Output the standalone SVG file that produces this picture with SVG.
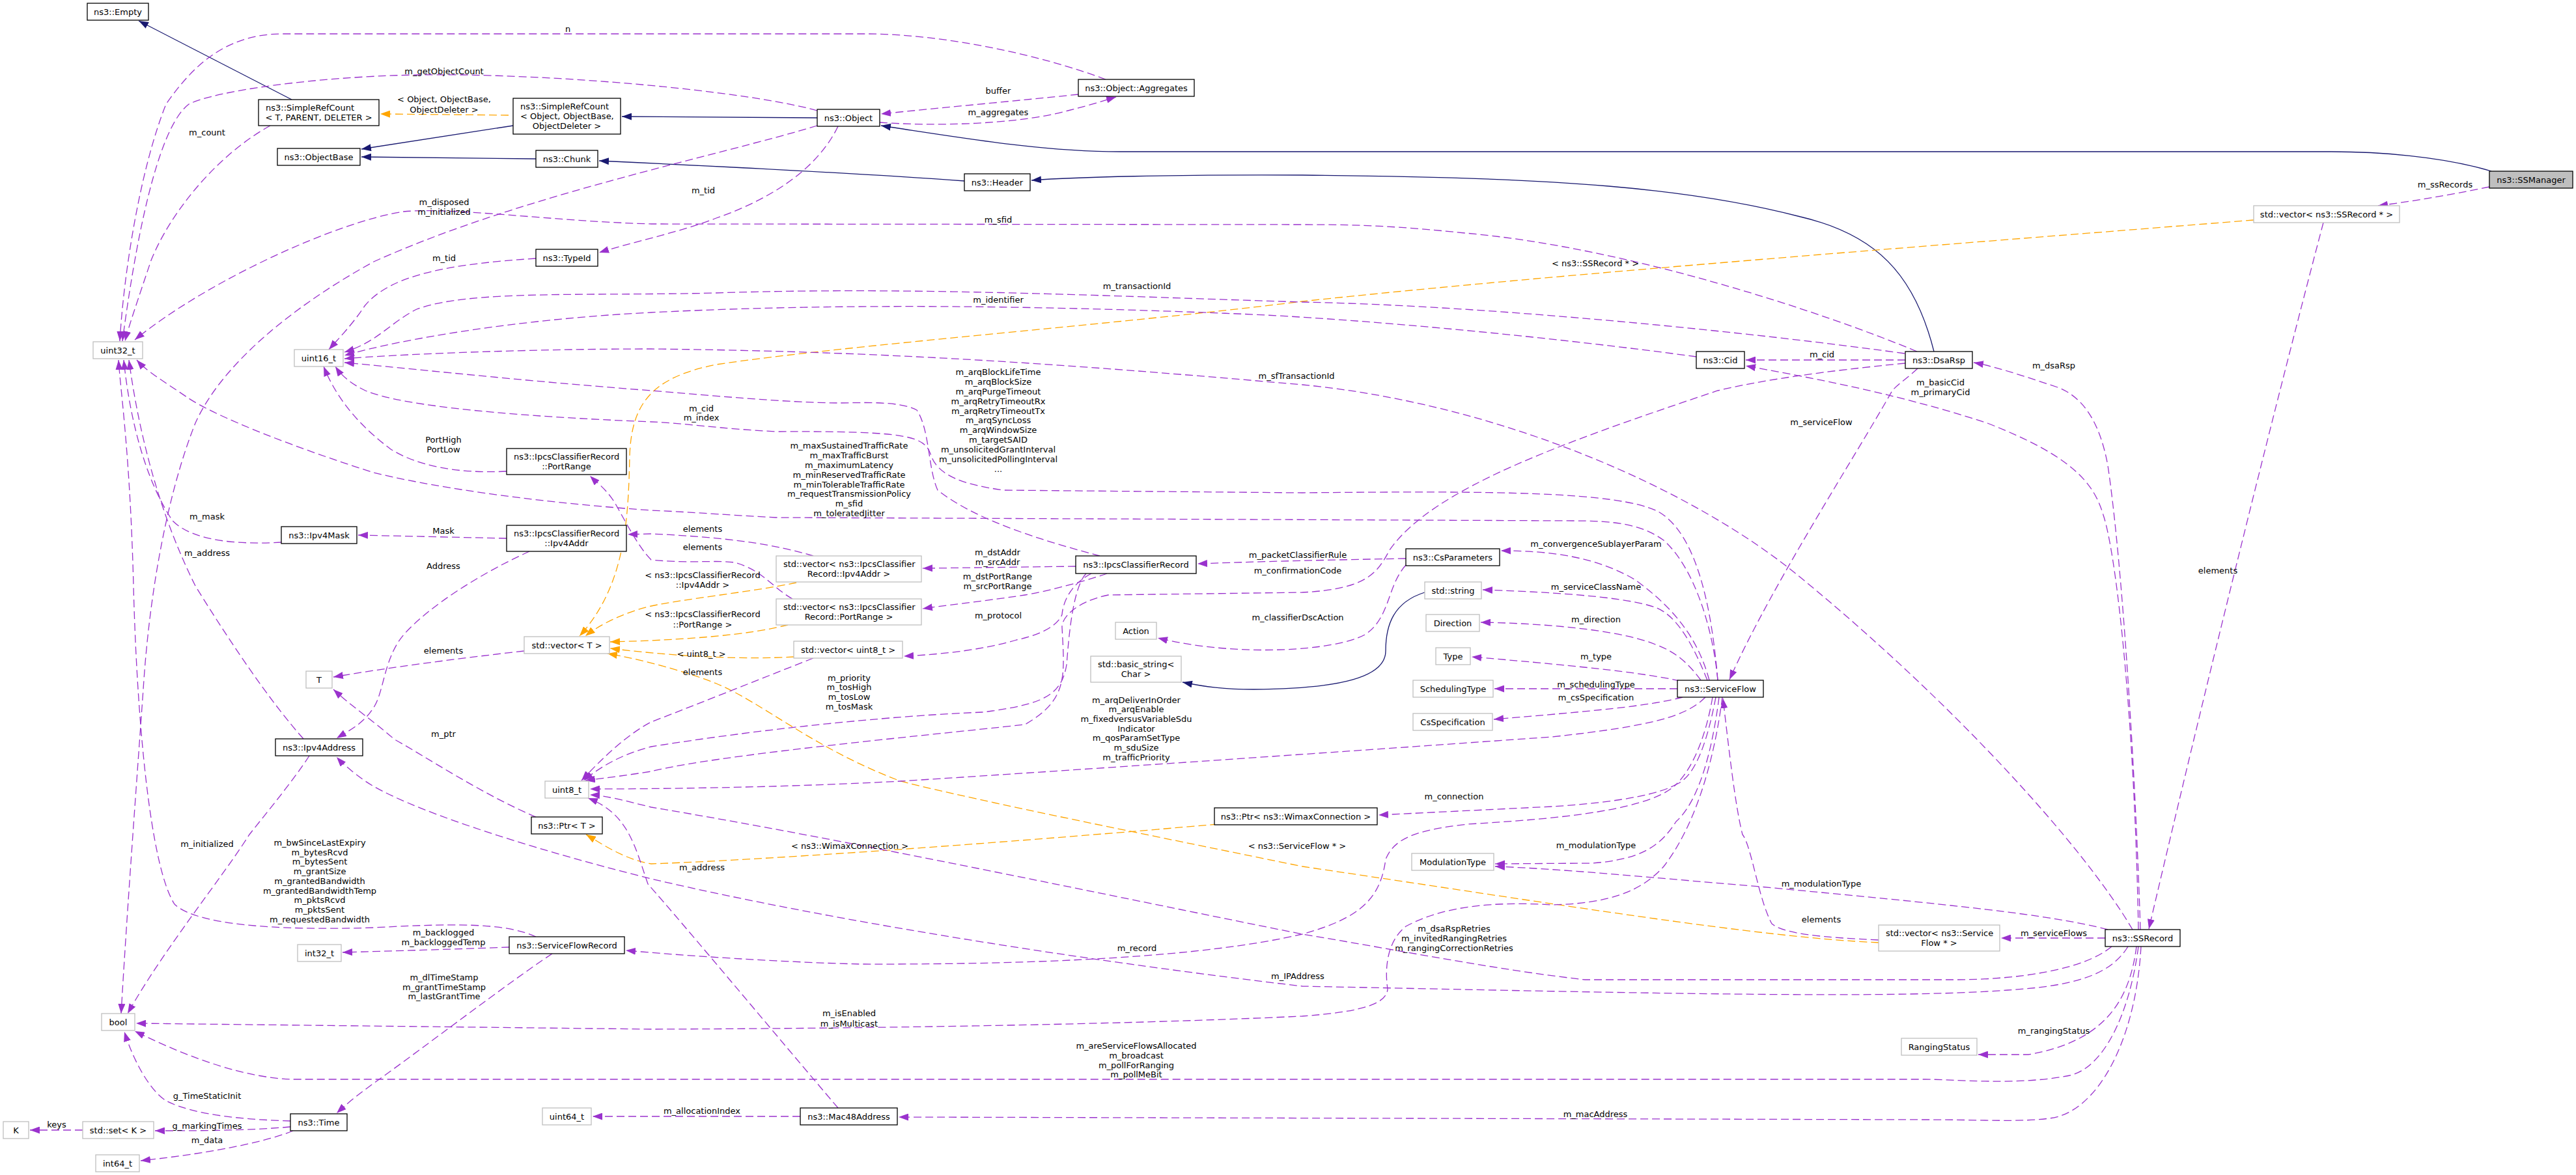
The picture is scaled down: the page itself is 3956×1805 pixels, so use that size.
<svg xmlns="http://www.w3.org/2000/svg" width="3956" height="1805" viewBox="0 0 3956 1805">
<style>
.n rect{fill:#fff;stroke:#000;stroke-width:1.3}
.u rect{fill:#fff;stroke:#bfbfbf;stroke-width:1.3}
.g rect{fill:#bfbfbf;stroke:#000;stroke-width:1.3}
text{font-family:"DejaVu Sans","Liberation Sans",sans-serif;font-size:13px;fill:#000}
.c{text-anchor:middle}
.l{text-anchor:start}
#edges path{fill:none;stroke-width:1.3}
.inh{stroke:#191970;marker-end:url(#ai)}
.use{stroke:#9a32cd;stroke-dasharray:12,6;marker-end:url(#au)}
.tpl{stroke:#ffa500;stroke-dasharray:12,6;marker-end:url(#at)}
#labels text{text-anchor:middle}
</style>
<defs>
<marker id="ai" viewBox="0 0 15 11" refX="15" refY="5.5" markerWidth="15" markerHeight="11" markerUnits="userSpaceOnUse" orient="auto"><path d="M0,0L15,5.5L0,11z" fill="#191970"/></marker>
<marker id="au" viewBox="0 0 15 11" refX="15" refY="5.5" markerWidth="15" markerHeight="11" markerUnits="userSpaceOnUse" orient="auto"><path d="M0,0L15,5.5L0,11z" fill="#9a32cd"/></marker>
<marker id="at" viewBox="0 0 15 11" refX="15" refY="5.5" markerWidth="15" markerHeight="11" markerUnits="userSpaceOnUse" orient="auto"><path d="M0,0L15,5.5L0,11z" fill="#ffa500"/></marker>
</defs>
<rect width="3956" height="1805" fill="#fff"/>
<g id="edges">
<path class="inh" d="M448,153 L213,32"/>
<path class="inh" d="M788,193 L555,229"/>
<path class="inh" d="M1255,181 L955,179"/>
<path class="inh" d="M823,244 L555,241"/>
<path class="inh" d="M1481,278 C1300,265 1050,253 920,247"/>
<path class="inh" d="M3826,263 C3750,240 3650,233 3580,233 L1720,233 C1600,233 1480,212 1353,193"/>
<path class="inh" d="M2970,540 C2940,420 2880,360 2765,333 C2600,290 2400,272 2000,269 C1800,268 1650,272 1584,277"/>
<path class="inh" d="M2188,910 C2140,925 2128,960 2128,1000 C2128,1040 2060,1058 1925,1059 C1880,1059 1850,1055 1816,1048"/>
<path class="tpl" d="M781,177 L584,175"/>
<path class="tpl" d="M3461,338 C3000,375 2400,420 2000,463 C1700,500 1300,530 1100,560 C1000,580 970,620 967,700 C965,800 960,900 890,977"/>
<path class="tpl" d="M1223,895 C1150,910 1050,920 1000,931 C960,940 920,960 899,977"/>
<path class="tpl" d="M1210,960 C1150,975 1060,983 937,986"/>
<path class="tpl" d="M1219,1009 C1150,1013 1050,1010 937,996"/>
<path class="tpl" d="M2885,1448 C2700,1440 2400,1390 2000,1331 C1800,1290 1500,1230 1383,1200 C1250,1150 1172,1080 1100,1050 C1050,1030 980,1012 933,1004"/>
<path class="tpl" d="M1870,1266 C1600,1290 1200,1320 1000,1327 C960,1320 930,1300 900,1282"/>
<path class="use" d="M1698,122 C1600,85 1450,52 1330,52 L434,52 C340,52 290,110 255,160 C215,260 190,420 184,524"/>
<path class="use" d="M1255,170 C1150,140 850,112 640,115 C480,118 330,140 290,160 C250,190 215,320 188,524"/>
<path class="use" d="M415,193 C330,240 260,330 232,400 C212,460 198,500 192,524"/>
<path class="use" d="M2944,540 C2800,480 2500,380 2250,358 C2150,348 2100,345 2000,345 L1000,344 C850,340 700,318 620,325 C520,340 320,430 207,522"/>
<path class="use" d="M432,833 C380,836 300,835 265,800 C225,740 200,650 190,553"/>
<path class="use" d="M466,1135 C415,1078 351,983 300,900 C250,800 215,680 198,553"/>
<path class="use" d="M2638,1045 C2630,960 2600,870 2555,830 C2520,805 2480,800 2415,800 L1191,795 C1100,790 1050,786 1000,784 C800,770 650,745 574,726 C460,690 330,640 287,610 C250,585 225,570 210,553"/>
<path class="use" d="M823,1439 C780,1420 720,1417 574,1425 C420,1430 300,1420 268,1389 C230,1330 210,1100 205,900 C200,700 185,600 182,553"/>
<path class="use" d="M1255,193 C1100,240 800,300 574,402 C450,470 340,560 300,650 C260,750 230,900 220,1059 C210,1200 195,1400 186,1557"/>
<path class="use" d="M475,1161 C450,1200 400,1260 383,1282 C340,1350 250,1460 196,1557"/>
<path class="use" d="M1287,194 C1260,250 1200,300 1100,335 C1050,355 960,375 920,388"/>
<path class="use" d="M823,397 C700,405 600,420 560,470 C540,500 520,520 505,537"/>
<path class="use" d="M1351,188 C1430,194 1560,192 1640,170 C1680,160 1700,153 1714,149"/>
<path class="use" d="M1656,145 C1560,155 1450,165 1353,175"/>
<path class="use" d="M2925,543 C2700,512 2300,470 2000,464 C1700,455 1400,440 1100,450 C900,455 720,445 640,475 C600,495 580,525 529,541"/>
<path class="use" d="M2605,548 C2400,520 2100,490 1900,482 C1600,470 1300,465 1000,480 C800,490 620,520 529,546"/>
<path class="use" d="M3275,1428 C3200,1300 3000,1080 2765,887 C2600,750 2300,620 2000,591 C1700,565 1400,540 1000,536 C800,536 600,545 529,551"/>
<path class="use" d="M1689,854 C1600,830 1500,800 1440,753 C1425,720 1428,660 1408,630 C1380,615 1320,619 1287,619 C1200,618 1100,608 1000,600 C800,585 620,565 529,557"/>
<path class="use" d="M2638,1045 C2630,950 2610,820 2545,785 C2480,755 2300,754 2000,757 L1542,753 C1480,745 1440,730 1430,700 C1420,670 1400,662 1191,663 C1100,658 1050,650 1000,648 C800,640 620,625 561,600 C540,590 525,578 515,563"/>
<path class="use" d="M778,724 C700,728 640,715 600,690 C560,660 520,620 497,563"/>
<path class="use" d="M2926,553 L2681,553"/>
<path class="use" d="M3284,1428 C3278,1100 3250,850 3230,791 C3215,740 3180,700 3052,650 C2900,600 2750,575 2681,562"/>
<path class="use" d="M3287,1428 C3280,1200 3260,870 3237,715 C3225,650 3200,610 3160,595 C3100,575 3060,562 3031,557"/>
<path class="use" d="M2945,566 C2930,580 2915,590 2906,600 C2850,700 2720,900 2656,1044"/>
<path class="use" d="M2926,558 C2800,570 2700,585 2638,600 C2400,680 2200,750 2134,845 C2115,880 2100,905 2000,910 L1702,914 C1650,925 1630,950 1631,964 C1635,1040 1640,1075 1574,1113 C1400,1132 1100,1160 1000,1185 C950,1193 920,1196 899,1199"/>
<path class="use" d="M3823,287 C3760,300 3700,310 3652,316"/>
<path class="use" d="M3568,342 C3500,600 3400,1000 3300,1427"/>
<path class="use" d="M3233,1441 L3073,1441"/>
<path class="use" d="M3237,1428 C3150,1405 3000,1390 2702,1362 C2500,1345 2400,1335 2296,1331"/>
<path class="use" d="M3281,1454 C3270,1540 3230,1600 3115,1620 L3038,1620"/>
<path class="use" d="M3288,1454 C3280,1600 3220,1710 3147,1718 C3100,1724 3050,1720 2956,1720 L1380,1716"/>
<path class="use" d="M3284,1454 C3270,1560 3230,1640 3179,1652 C3100,1668 3000,1658 2956,1658 L446,1658 C380,1655 300,1630 207,1584"/>
<path class="use" d="M3243,1454 C3200,1490 3100,1505 3000,1505 L2434,1505 C2300,1490 2150,1460 2000,1435 C1700,1375 1300,1290 1000,1240 C960,1230 930,1222 906,1221"/>
<path class="use" d="M3268,1454 C3240,1500 3180,1515 3083,1521 C2900,1535 2500,1525 2000,1515 C1700,1480 1300,1420 1000,1350 C800,1300 620,1240 561,1200 C540,1185 525,1172 517,1163"/>
<path class="use" d="M2625,1045 C2610,990 2580,940 2510,890 C2450,855 2380,846 2305,846"/>
<path class="use" d="M2622,1045 C2600,990 2575,945 2542,933 C2500,918 2400,910 2277,906"/>
<path class="use" d="M2612,1045 C2590,1015 2570,1000 2542,990 C2500,972 2400,958 2274,956"/>
<path class="use" d="M2580,1046 C2530,1035 2450,1025 2260,1009"/>
<path class="use" d="M2576,1058 L2295,1058"/>
<path class="use" d="M2584,1071 C2530,1085 2450,1092 2294,1105"/>
<path class="use" d="M2630,1071 C2620,1130 2600,1180 2574,1205 C2540,1225 2450,1235 2383,1239 L2117,1252"/>
<path class="use" d="M2640,1071 C2630,1150 2610,1230 2574,1262 C2550,1300 2520,1320 2446,1326 L2296,1327"/>
<path class="use" d="M2635,1071 C2620,1150 2600,1195 2574,1205 C2530,1250 2350,1260 2255,1266 C2170,1275 2140,1290 2128,1320 C2120,1380 2090,1410 2000,1435 C1850,1470 1600,1482 1319,1481 C1200,1478 1050,1468 961,1460"/>
<path class="use" d="M2645,1071 C2635,1150 2610,1260 2555,1331 C2520,1370 2470,1388 2383,1390 C2300,1385 2220,1390 2159,1423 C2125,1450 2128,1500 2131,1519 C2130,1545 2080,1555 2000,1561 C1700,1575 1300,1580 1000,1581 L209,1572"/>
<path class="use" d="M2619,1071 C2590,1100 2540,1115 2383,1132 C2200,1145 1700,1180 1383,1200 C1200,1210 1000,1212 906,1212"/>
<path class="use" d="M2885,1444 C2800,1440 2740,1435 2721,1419 C2700,1380 2690,1300 2676,1282 C2665,1240 2655,1150 2646,1073"/>
<path class="use" d="M2159,858 C2050,860 1950,862 1839,866"/>
<path class="use" d="M2159,868 C2130,900 2135,950 2096,975 C2050,1000 1900,1010 1778,980"/>
<path class="use" d="M1652,870 L1417,873"/>
<path class="use" d="M1700,881 C1660,895 1600,910 1574,914 C1500,925 1450,930 1417,935"/>
<path class="use" d="M1676,881 C1640,900 1632,930 1631,944 C1625,960 1600,975 1561,983 C1510,998 1450,1005 1388,1008"/>
<path class="use" d="M1668,881 C1645,905 1640,1000 1638,1021 C1630,1070 1600,1082 1510,1094 C1400,1098 1200,1115 1000,1147 C950,1160 920,1180 896,1199"/>
<path class="use" d="M1249,854 C1191,837 1128,826 1000,820 L964,821"/>
<path class="use" d="M1217,920 C1185,902 1172,876 1128,864 C1100,860 1060,866 1000,860 C980,840 960,800 944,772 C930,750 915,740 906,731"/>
<path class="use" d="M1249,1011 C1150,1050 1050,1090 1000,1109 C960,1130 920,1170 893,1199"/>
<path class="use" d="M778,827 L550,822"/>
<path class="use" d="M813,847 C740,880 660,930 620,975 C590,1010 590,1060 575,1085 C560,1110 540,1120 517,1134"/>
<path class="use" d="M805,1000 C700,1012 600,1025 512,1040"/>
<path class="use" d="M823,1255 C740,1220 650,1160 606,1136 C570,1105 540,1085 512,1059"/>
<path class="use" d="M1287,1702 C1200,1600 1050,1420 995,1358 C975,1300 965,1250 903,1226"/>
<path class="use" d="M1229,1715 L910,1715"/>
<path class="use" d="M782,1455 C700,1458 600,1461 526,1463"/>
<path class="use" d="M848,1465 C780,1510 650,1610 574,1664 C545,1685 530,1698 517,1710"/>
<path class="use" d="M446,1722 C380,1720 300,1714 255,1691 C230,1675 205,1630 191,1585"/>
<path class="use" d="M446,1731 C380,1737 300,1737 238,1737"/>
<path class="use" d="M450,1737 C420,1750 340,1770 216,1783"/>
<path class="use" d="M127,1736 L46,1736"/>
</g>
<g id="labels">
<text x="872" y="48.5">n</text>
<text x="682" y="113.5">m_getObjectCount</text>
<text x="682" y="156.5">&lt; Object, ObjectBase,</text>
<text x="682" y="172.5">ObjectDeleter &gt;</text>
<text x="318" y="207.5">m_count</text>
<text x="682" y="314.5">m_disposed</text>
<text x="682" y="329.5">m_initialized</text>
<text x="1080" y="296.5">m_tid</text>
<text x="682" y="400.5">m_tid</text>
<text x="1533" y="143.5">buffer</text>
<text x="1533" y="176.5">m_aggregates</text>
<text x="1533" y="341.5">m_sfid</text>
<text x="1746" y="443.5">m_transactionId</text>
<text x="1533" y="464.5">m_identifier</text>
<text x="1533" y="575.5">m_arqBlockLifeTime</text>
<text x="1533" y="590.5">m_arqBlockSize</text>
<text x="1533" y="605.5">m_arqPurgeTimeout</text>
<text x="1533" y="620.5">m_arqRetryTimeoutRx</text>
<text x="1533" y="635.5">m_arqRetryTimeoutTx</text>
<text x="1533" y="649.5">m_arqSyncLoss</text>
<text x="1533" y="664.5">m_arqWindowSize</text>
<text x="1533" y="679.5">m_targetSAID</text>
<text x="1533" y="694.5">m_unsolicitedGrantInterval</text>
<text x="1533" y="709.5">m_unsolicitedPollingInterval</text>
<text x="1533" y="724.5">...</text>
<text x="1991" y="581.5">m_sfTransactionId</text>
<text x="2450" y="408.5">&lt; ns3::SSRecord * &gt;</text>
<text x="2798" y="548.5">m_cid</text>
<text x="2980" y="591.5">m_basicCid</text>
<text x="2980" y="606.5">m_primaryCid</text>
<text x="3755" y="287.5">m_ssRecords</text>
<text x="3154" y="565.5">m_dsaRsp</text>
<text x="681" y="679.5">PortHigh</text>
<text x="681" y="694.5">PortLow</text>
<text x="318" y="797.5">m_mask</text>
<text x="681" y="819.5">Mask</text>
<text x="318" y="853.5">m_address</text>
<text x="681" y="873.5">Address</text>
<text x="681" y="1003.5">elements</text>
<text x="681" y="1131.5">m_ptr</text>
<text x="1077" y="631.5">m_cid</text>
<text x="1077" y="645.5">m_index</text>
<text x="1304" y="688.5">m_maxSustainedTrafficRate</text>
<text x="1304" y="703.5">m_maxTrafficBurst</text>
<text x="1304" y="718.5">m_maximumLatency</text>
<text x="1304" y="733.5">m_minReservedTrafficRate</text>
<text x="1304" y="748.5">m_minTolerableTrafficRate</text>
<text x="1304" y="762.5">m_requestTransmissionPolicy</text>
<text x="1304" y="777.5">m_sfid</text>
<text x="1304" y="792.5">m_toleratedJitter</text>
<text x="1079" y="816.5">elements</text>
<text x="1079" y="844.5">elements</text>
<text x="1079" y="887.5">&lt; ns3::IpcsClassifierRecord</text>
<text x="1079" y="902.5">::Ipv4Addr &gt;</text>
<text x="1079" y="947.5">&lt; ns3::IpcsClassifierRecord</text>
<text x="1079" y="963.5">::PortRange &gt;</text>
<text x="1077" y="1008.5">&lt; uint8_t &gt;</text>
<text x="1079" y="1036.5">elements</text>
<text x="1532" y="852.5">m_dstAddr</text>
<text x="1532" y="867.5">m_srcAddr</text>
<text x="1532" y="889.5">m_dstPortRange</text>
<text x="1532" y="904.5">m_srcPortRange</text>
<text x="1533" y="949.5">m_protocol</text>
<text x="1304" y="1045.5">m_priority</text>
<text x="1304" y="1059.5">m_tosHigh</text>
<text x="1304" y="1074.5">m_tosLow</text>
<text x="1304" y="1089.5">m_tosMask</text>
<text x="1745" y="1079.5">m_arqDeliverInOrder</text>
<text x="1745" y="1093.5">m_arqEnable</text>
<text x="1745" y="1108.5">m_fixedversusVariableSdu</text>
<text x="1745" y="1123.5">Indicator</text>
<text x="1745" y="1137.5">m_qosParamSetType</text>
<text x="1745" y="1152.5">m_sduSize</text>
<text x="1745" y="1167.5">m_trafficPriority</text>
<text x="1993" y="856.5">m_packetClassifierRule</text>
<text x="1993" y="880.5">m_confirmationCode</text>
<text x="1993" y="952.5">m_classifierDscAction</text>
<text x="2797" y="652.5">m_serviceFlow</text>
<text x="2451" y="839.5">m_convergenceSublayerParam</text>
<text x="2451" y="905.5">m_serviceClassName</text>
<text x="2451" y="955.5">m_direction</text>
<text x="2451" y="1012.5">m_type</text>
<text x="2451" y="1055.5">m_schedulingType</text>
<text x="2451" y="1075.5">m_csSpecification</text>
<text x="3406" y="880.5">elements</text>
<text x="318" y="1300.5">m_initialized</text>
<text x="491" y="1298.5">m_bwSinceLastExpiry</text>
<text x="491" y="1313.5">m_bytesRcvd</text>
<text x="491" y="1327.5">m_bytesSent</text>
<text x="491" y="1342.5">m_grantSize</text>
<text x="491" y="1357.5">m_grantedBandwidth</text>
<text x="491" y="1372.5">m_grantedBandwidthTemp</text>
<text x="491" y="1386.5">m_pktsRcvd</text>
<text x="491" y="1401.5">m_pktsSent</text>
<text x="491" y="1416.5">m_requestedBandwidth</text>
<text x="681" y="1436.5">m_backlogged</text>
<text x="681" y="1451.5">m_backloggedTemp</text>
<text x="682" y="1505.5">m_dlTimeStamp</text>
<text x="682" y="1520.5">m_grantTimeStamp</text>
<text x="682" y="1534.5">m_lastGrantTime</text>
<text x="318" y="1687.5">g_TimeStaticInit</text>
<text x="87" y="1731.5">keys</text>
<text x="318" y="1733.5">g_markingTimes</text>
<text x="318" y="1755.5">m_data</text>
<text x="1305" y="1303.5">&lt; ns3::WimaxConnection &gt;</text>
<text x="1078" y="1336.5">m_address</text>
<text x="1746" y="1460.5">m_record</text>
<text x="1993" y="1503.5">m_IPAddress</text>
<text x="1304" y="1560.5">m_isEnabled</text>
<text x="1304" y="1576.5">m_isMulticast</text>
<text x="1745" y="1610.5">m_areServiceFlowsAllocated</text>
<text x="1745" y="1625.5">m_broadcast</text>
<text x="1745" y="1640.5">m_pollForRanging</text>
<text x="1745" y="1654.5">m_pollMeBit</text>
<text x="1078" y="1710.5">m_allocationIndex</text>
<text x="1992" y="1303.5">&lt; ns3::ServiceFlow * &gt;</text>
<text x="2233" y="1227.5">m_connection</text>
<text x="2451" y="1302.5">m_modulationType</text>
<text x="2797" y="1361.5">m_modulationType</text>
<text x="2797" y="1416.5">elements</text>
<text x="2233" y="1430.5">m_dsaRspRetries</text>
<text x="2233" y="1445.5">m_invitedRangingRetries</text>
<text x="2233" y="1460.5">m_rangingCorrectionRetries</text>
<text x="2450" y="1715.5">m_macAddress</text>
<text x="3154" y="1437.5">m_serviceFlows</text>
<text x="3154" y="1587.5">m_rangingStatus</text>
</g>
<g id="n_Empty" class="n"><rect x="134" y="5" width="94" height="26"/><text class="c" x="181" y="22.5">ns3::Empty</text></g>
<g id="n_SimpleRefCountT" class="n"><rect x="397" y="153" width="185" height="40"/><text class="l" x="408" y="170">ns3::SimpleRefCount</text><text class="c" x="489.5" y="185">&lt; T, PARENT, DELETER &gt;</text></g>
<g id="n_SimpleRefCountObj" class="n"><rect x="788" y="151" width="165" height="55"/><text class="l" x="799" y="168">ns3::SimpleRefCount</text><text class="l" x="799" y="183">&lt; Object, ObjectBase,</text><text class="c" x="870.5" y="198">ObjectDeleter &gt;</text></g>
<g id="n_ObjectBase" class="n"><rect x="426" y="228" width="127" height="26"/><text class="c" x="489.5" y="245.5">ns3::ObjectBase</text></g>
<g id="n_Chunk" class="n"><rect x="823" y="231" width="95" height="26"/><text class="c" x="870.5" y="248.5">ns3::Chunk</text></g>
<g id="n_Object" class="n"><rect x="1255" y="168" width="96" height="26"/><text class="c" x="1303" y="185.5">ns3::Object</text></g>
<g id="n_Aggregates" class="n"><rect x="1656" y="122" width="178" height="26"/><text class="c" x="1745" y="139.5">ns3::Object::Aggregates</text></g>
<g id="n_Header" class="n"><rect x="1481" y="267" width="101" height="26"/><text class="c" x="1531.5" y="284.5">ns3::Header</text></g>
<g id="n_TypeId" class="n"><rect x="823" y="383" width="95" height="26"/><text class="c" x="870.5" y="400.5">ns3::TypeId</text></g>
<g id="n_uint32" class="u"><rect x="143" y="525" width="76" height="26"/><text class="c" x="181" y="542.5">uint32_t</text></g>
<g id="n_uint16" class="u"><rect x="452" y="537" width="75" height="26"/><text class="c" x="489.5" y="554.5">uint16_t</text></g>
<g id="n_Cid" class="n"><rect x="2605" y="540" width="74" height="26"/><text class="c" x="2642" y="557.5">ns3::Cid</text></g>
<g id="n_DsaRsp" class="n"><rect x="2926" y="540" width="103" height="26"/><text class="c" x="2977.5" y="557.5">ns3::DsaRsp</text></g>
<g id="n_SSManager" class="g"><rect x="3823" y="263" width="128" height="26"/><text class="c" x="3887" y="280.5">ns3::SSManager</text></g>
<g id="n_vecSSRecord" class="u"><rect x="3461" y="316" width="224" height="26"/><text class="c" x="3573" y="333.5">std::vector&lt; ns3::SSRecord * &gt;</text></g>
<g id="n_PortRange" class="n"><rect x="778" y="689" width="184" height="40"/><text class="l" x="789" y="706">ns3::IpcsClassifierRecord</text><text class="c" x="870" y="721">::PortRange</text></g>
<g id="n_Ipv4Mask" class="n"><rect x="432" y="809" width="116" height="26"/><text class="c" x="490" y="826.5">ns3::Ipv4Mask</text></g>
<g id="n_Ipv4Addr" class="n"><rect x="778" y="807" width="184" height="40"/><text class="l" x="789" y="824">ns3::IpcsClassifierRecord</text><text class="c" x="870" y="839">::Ipv4Addr</text></g>
<g id="n_vecT" class="u"><rect x="805" y="978" width="131" height="26"/><text class="c" x="870.5" y="995.5">std::vector&lt; T &gt;</text></g>
<g id="n_T" class="u"><rect x="470" y="1031" width="40" height="26"/><text class="c" x="490" y="1048.5">T</text></g>
<g id="n_Ipv4Address" class="n"><rect x="423" y="1135" width="134" height="26"/><text class="c" x="490" y="1152.5">ns3::Ipv4Address</text></g>
<g id="n_vecIpv4Addr" class="u"><rect x="1192" y="854" width="223" height="40"/><text class="l" x="1203" y="871">std::vector&lt; ns3::IpcsClassifier</text><text class="c" x="1303.5" y="886">Record::Ipv4Addr &gt;</text></g>
<g id="n_vecPortRange" class="u"><rect x="1192" y="920" width="223" height="40"/><text class="l" x="1203" y="937">std::vector&lt; ns3::IpcsClassifier</text><text class="c" x="1303.5" y="952">Record::PortRange &gt;</text></g>
<g id="n_vecUint8" class="u"><rect x="1219" y="985" width="167" height="26"/><text class="c" x="1302.5" y="1002.5">std::vector&lt; uint8_t &gt;</text></g>
<g id="n_IpcsClassifierRecord" class="n"><rect x="1652" y="854" width="185" height="27"/><text class="c" x="1744.5" y="872">ns3::IpcsClassifierRecord</text></g>
<g id="n_Action" class="u"><rect x="1713" y="956" width="63" height="26"/><text class="c" x="1744.5" y="973.5">Action</text></g>
<g id="n_basicString" class="u"><rect x="1675" y="1008" width="139" height="40"/><text class="l" x="1686" y="1025">std::basic_string&lt;</text><text class="c" x="1744.5" y="1040">Char &gt;</text></g>
<g id="n_CsParameters" class="n"><rect x="2159" y="843" width="144" height="26"/><text class="c" x="2231" y="860.5">ns3::CsParameters</text></g>
<g id="n_stdString" class="u"><rect x="2188" y="894" width="87" height="26"/><text class="c" x="2231.5" y="911.5">std::string</text></g>
<g id="n_Direction" class="u"><rect x="2190" y="944" width="82" height="26"/><text class="c" x="2231" y="961.5">Direction</text></g>
<g id="n_Type" class="u"><rect x="2205" y="995" width="53" height="26"/><text class="c" x="2231.5" y="1012.5">Type</text></g>
<g id="n_SchedulingType" class="u"><rect x="2170" y="1045" width="123" height="26"/><text class="c" x="2231.5" y="1062.5">SchedulingType</text></g>
<g id="n_CsSpecification" class="u"><rect x="2170" y="1096" width="122" height="26"/><text class="c" x="2231" y="1113.5">CsSpecification</text></g>
<g id="n_ServiceFlow" class="n"><rect x="2576" y="1045" width="132" height="26"/><text class="c" x="2642" y="1062.5">ns3::ServiceFlow</text></g>
<g id="n_uint8" class="u"><rect x="837" y="1200" width="67" height="26"/><text class="c" x="870.5" y="1217.5">uint8_t</text></g>
<g id="n_PtrT" class="n"><rect x="816" y="1255" width="109" height="26"/><text class="c" x="870.5" y="1272.5">ns3::Ptr&lt; T &gt;</text></g>
<g id="n_ServiceFlowRecord" class="n"><rect x="782" y="1439" width="177" height="26"/><text class="c" x="870.5" y="1456.5">ns3::ServiceFlowRecord</text></g>
<g id="n_int32" class="u"><rect x="457" y="1451" width="67" height="26"/><text class="c" x="490.5" y="1468.5">int32_t</text></g>
<g id="n_bool" class="u"><rect x="156" y="1557" width="51" height="26"/><text class="c" x="181.5" y="1574.5">bool</text></g>
<g id="n_Time" class="n"><rect x="446" y="1711" width="87" height="26"/><text class="c" x="489.5" y="1728.5">ns3::Time</text></g>
<g id="n_setK" class="u"><rect x="127" y="1723" width="109" height="26"/><text class="c" x="181.5" y="1740.5">std::set&lt; K &gt;</text></g>
<g id="n_K" class="u"><rect x="5" y="1723" width="39" height="26"/><text class="c" x="24.5" y="1740.5">K</text></g>
<g id="n_int64" class="u"><rect x="147" y="1774" width="67" height="26"/><text class="c" x="180.5" y="1791.5">int64_t</text></g>
<g id="n_uint64" class="u"><rect x="833" y="1702" width="75" height="26"/><text class="c" x="870.5" y="1719.5">uint64_t</text></g>
<g id="n_PtrWimax" class="n"><rect x="1865" y="1241" width="250" height="26"/><text class="c" x="1990" y="1258.5">ns3::Ptr&lt; ns3::WimaxConnection &gt;</text></g>
<g id="n_Mac48Address" class="n"><rect x="1229" y="1702" width="149" height="26"/><text class="c" x="1303.5" y="1719.5">ns3::Mac48Address</text></g>
<g id="n_ModulationType" class="u"><rect x="2168" y="1311" width="126" height="26"/><text class="c" x="2231" y="1328.5">ModulationType</text></g>
<g id="n_vecServiceFlow" class="u"><rect x="2885" y="1421" width="186" height="40"/><text class="l" x="2896" y="1438">std::vector&lt; ns3::Service</text><text class="c" x="2978" y="1453">Flow * &gt;</text></g>
<g id="n_RangingStatus" class="u"><rect x="2920" y="1595" width="116" height="26"/><text class="c" x="2978" y="1612.5">RangingStatus</text></g>
<g id="n_SSRecord" class="n"><rect x="3233" y="1428" width="115" height="26"/><text class="c" x="3290.5" y="1445.5">ns3::SSRecord</text></g>
</svg>
